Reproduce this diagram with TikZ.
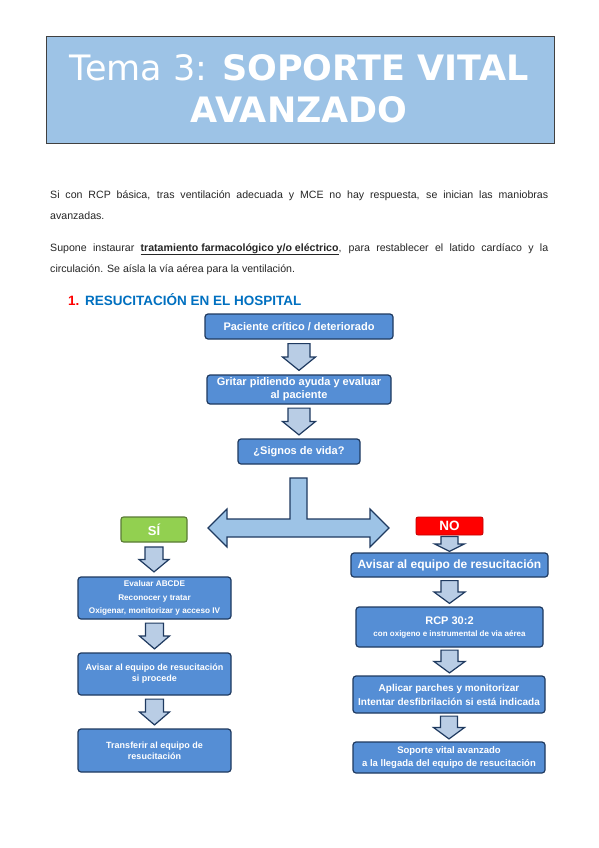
\documentclass[tikz,border=0pt]{standalone}
\usepackage{fontspec}
\setmainfont{Liberation Sans}
\newfontfamily\dejavu{DejaVu Sans}
\usetikzlibrary{calc}
\definecolor{navy}{HTML}{1F3A60}
\definecolor{boxblue}{HTML}{558ED5}
\definecolor{arrowblue}{HTML}{B9CDE5}
\definecolor{bigarrow}{HTML}{9DC3E6}
\definecolor{titleblue}{HTML}{9DC3E6}
\definecolor{headblue}{HTML}{0070C0}
\definecolor{sigreen}{HTML}{92D050}
\definecolor{sigreenb}{HTML}{5A7A35}
\definecolor{nored}{HTML}{FF0000}
\definecolor{noredb}{HTML}{C00000}
\definecolor{bodytext}{HTML}{262626}
\newcommand\bda[5]{% upper node, lower node, gap, shaft half, head half
  \draw[barrow] let \p1=(#1.south), \p2=(#2.north) in
    ({\x1-#4pt},{\y1-#3pt}) -- ({\x1+#4pt},{\y1-#3pt}) -- ({\x1+#4pt},{(\y1+\y2)/2}) --
    ({\x1+#5pt},{(\y1+\y2)/2}) -- (\x1,{\y2+#3pt}) -- ({\x1-#5pt},{(\y1+\y2)/2}) --
    ({\x1-#4pt},{(\y1+\y2)/2}) -- cycle;}
\begin{document}
\begin{tikzpicture}[x=1pt,y=-1pt,
  fbox/.style={rectangle, rounded corners=3pt, draw=navy, line width=1.2pt, fill=boxblue,
    text=white, inner sep=0pt, align=center},
  barrow/.style={draw=navy, line width=1.2pt, fill=arrowblue, line join=miter},
  bodyline/.style={anchor=base west, inner sep=0pt, text=bodytext, font=\fontsize{10.6}{12}\selectfont},
  titletext/.style={anchor=base, inner sep=0pt, text=white, font=\dejavu\fontsize{35}{40}\selectfont}]
\fill[white] (0,0) rectangle (599,848);
\useasboundingbox (0,0) rectangle (599,848);

% title
\node[rectangle, draw=black!75, line width=1pt, fill=titleblue, minimum width=508pt, minimum height=106pt, inner sep=0pt] (title) at (300,90) {};
\node[titletext] (t1) at (299,81) {Tema 3: \textbf{SOPORTE VITAL}};
\node[titletext] (t2) at (299,123) {\textbf{AVANZADO}};

% body text
\node[bodyline] (p1) at (50,198) {\makebox[498pt][s]{Si con RCP básica, tras ventilación adecuada y MCE no hay respuesta, se inician las maniobras}};
\node[bodyline] (p2) at (50,219) {avanzadas.};
\node[bodyline] (p3) at (50,251) {\makebox[498pt][s]{Supone instaurar \textbf{\underline{tratamiento farmacológico y/o eléctrico}}, para restablecer el latido cardíaco y la}};
\node[bodyline] (p4) at (50,272) {circulación. Se aísla la vía aérea para la ventilación.};

% heading
\node[anchor=base west, inner sep=0pt, text=nored, font=\bfseries\fontsize{13.5}{15}\selectfont] (h1) at (68,305) {1.};
\node[anchor=base west, inner sep=0pt, text=headblue, font=\bfseries\fontsize{13.5}{15}\selectfont] (h2) at (85,305) {RESUCITACIÓN EN EL HOSPITAL};

% top column
\node[fbox, minimum width=188pt, minimum height=25pt, font=\bfseries\fontsize{11}{13}\selectfont] (b1) at (299,326.5) {Paciente crítico / deteriorado};
\node[fbox, minimum width=184pt, minimum height=29pt, font=\bfseries\fontsize{11}{13}\selectfont] (b2) at (299,389.5) {Gritar pidiendo ayuda y evaluar\\al paciente};
\node[fbox, minimum width=122pt, minimum height=25pt, font=\bfseries\fontsize{11}{13}\selectfont] (b3) at (299,451.5) {¿Signos de vida?};

% yes / no
\node[rectangle, rounded corners=2.5pt, draw=sigreenb, line width=1.1pt, fill=sigreen, text=white, inner sep=0pt,
  minimum width=66pt, minimum height=25pt, font=\bfseries\fontsize{13}{15}\selectfont] (si) at (154,529.5) {SÍ};
\node[rectangle, rounded corners=2pt, draw=noredb, line width=0.8pt, fill=nored, text=white, inner sep=0pt,
  minimum width=67pt, minimum height=18pt, font=\bfseries\fontsize{13.5}{15}\selectfont] (no) at (449.5,526) {NO};

% left column
\node[fbox, minimum width=153pt, minimum height=42pt, font=\bfseries\fontsize{8.2}{13.5}\selectfont] (l1) at (154.5,598) {Evaluar ABCDE\\Reconocer y tratar\\Oxigenar, monitorizar y acceso IV};
\node[fbox, minimum width=153pt, minimum height=42pt, font=\bfseries\fontsize{9}{11}\selectfont] (l2) at (154.5,674) {Avisar al equipo de resucitación\\si procede};
\node[fbox, minimum width=153pt, minimum height=43pt, font=\bfseries\fontsize{9}{11}\selectfont] (l3) at (154.5,750.5) {Transferir al equipo de\\resucitación};

% right column
\node[fbox, minimum width=197pt, minimum height=24pt, font=\bfseries\fontsize{12}{14}\selectfont] (r1) at (449.5,565) {Avisar al equipo de resucitación};
\node[fbox, minimum width=187pt, minimum height=40pt, font=\bfseries] (r2) at (449.5,627) {{\fontsize{11}{13}\selectfont RCP 30:2}\\{\fontsize{8}{13}\selectfont con oxigeno e instrumental de via aérea}};
\node[fbox, minimum width=192pt, minimum height=37pt, font=\bfseries\fontsize{10}{14}\selectfont] (r3) at (449,694.5) {Aplicar parches y monitorizar\\Intentar desfibrilación si está indicada};
\node[fbox, minimum width=192pt, minimum height=31pt, font=\bfseries\fontsize{9.5}{13}\selectfont] (r4) at (449,757.5) {Soporte vital avanzado\\a la llegada del equipo de resucitación};

% block arrows
\bda{b1}{b2}{4}{11}{16.5}
\bda{b2}{b3}{3.5}{11}{16.5}
\bda{si}{l1}{4.5}{9}{15}
\bda{l1}{l2}{3.5}{9}{15}
\bda{l2}{l3}{3.5}{9}{15}
\bda{no}{r1}{1}{8.5}{15}
\bda{r1}{r2}{3}{8.5}{15.5}
\bda{r2}{r3}{2.5}{8.5}{15.5}
\bda{r3}{r4}{2.5}{8.5}{15.5}

% split double arrow
\draw[barrow, fill=bigarrow] (290,478) -- (307,478) -- (307,519) -- (370,519) -- (370,509) -- (389,528) --
  (370,547) -- (370,537) -- (227,537) -- (227,547) -- (208,528) -- (227,509) -- (227,519) -- (290,519) -- cycle;
\end{tikzpicture}
\end{document}
